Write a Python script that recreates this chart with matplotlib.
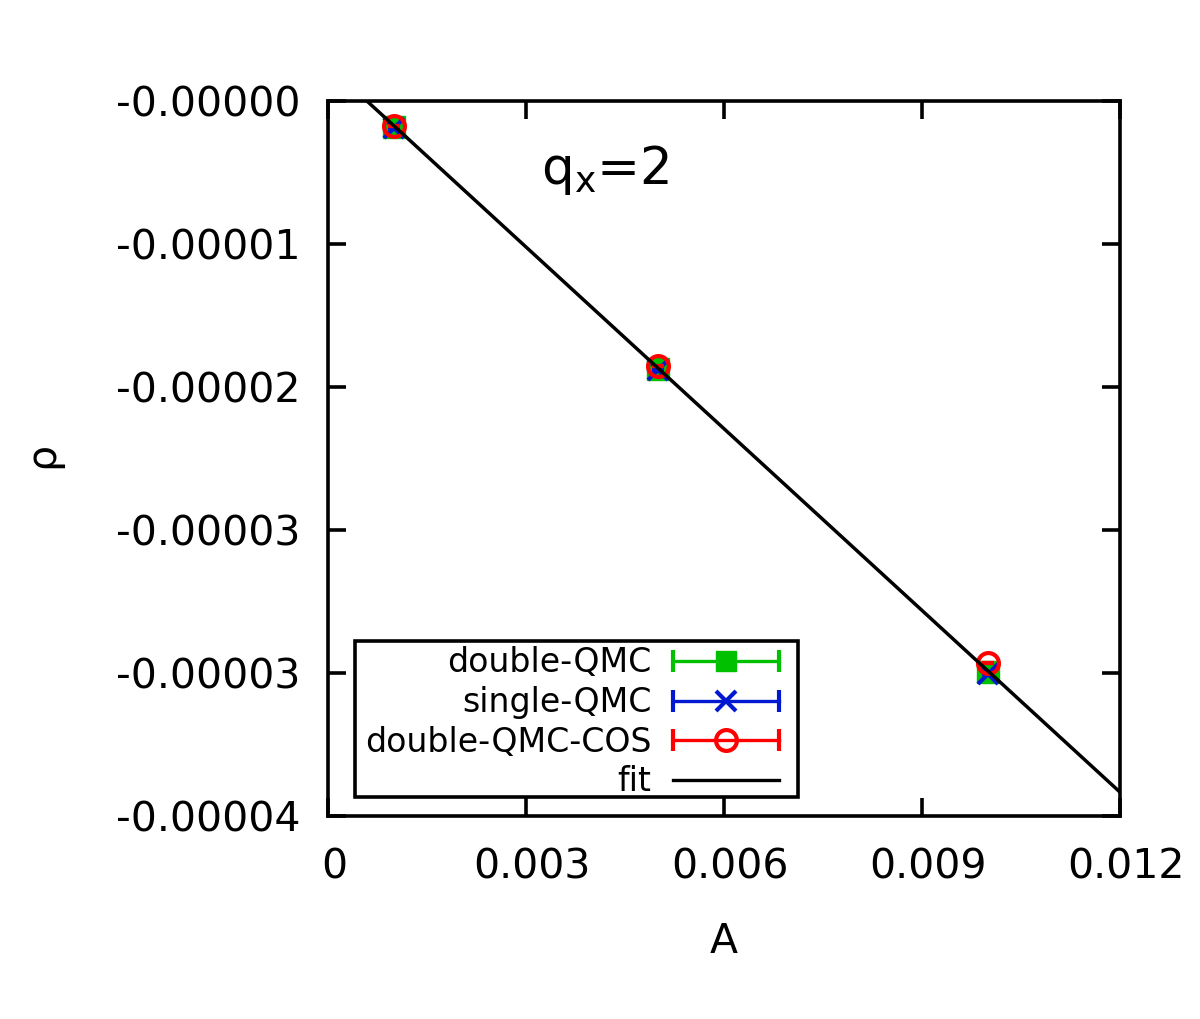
import numpy as np
import matplotlib
matplotlib.use("Agg")
import matplotlib.pyplot as plt
import matplotlib.transforms as mtransforms
from matplotlib.lines import Line2D
from matplotlib.patches import Rectangle
from matplotlib.legend_handler import HandlerLine2D, HandlerTuple
from matplotlib.ticker import FuncFormatter

# data
A = [0.001, 0.005, 0.010]
rho_double = [-1.53e-6, -1.574e-5, -3.354e-5]
rho_single = [-1.59e-6, -1.58e-5, -3.366e-5]
rho_cos = [-1.47e-6, -1.557e-5, -3.301e-5]
err = [2e-8, 2e-8, 2e-8]
fit_a = 2.10e-6
fit_b = -3.558e-3
xticks = [0, 0.003, 0.006, 0.009, 0.012]
xlim = (0, 0.012)
ylim = (-4.2e-5, 0.0)
labels = ['double-QMC', 'single-QMC', 'double-QMC-COS', 'fit']

green = '#00c000'
blue = '#0018d0'
red = '#ff0000'

fig = plt.figure(figsize=(12, 10.19), dpi=100)
ax = fig.add_axes([0.2733, 0.1992, 0.66, 0.7017])

ax.errorbar(A, rho_double, yerr=err, fmt='s', color=green, ms=15.5, capsize=4, elinewidth=2, zorder=3)
ax.errorbar(A, rho_single, yerr=err, fmt='x', color=blue, ms=14, mew=3, capsize=4, elinewidth=2, zorder=4)
ax.errorbar(A, rho_cos, yerr=err, fmt='o', color=red, ms=15, mfc='none', mew=3, capsize=4, elinewidth=2, zorder=5)
xf = np.array(xlim)
ax.plot(xf, fit_a + fit_b * xf, color='black', lw=2.5, zorder=6)

ax.set_xlim(*xlim)
ax.set_ylim(*ylim)
ax.set_xticks(xticks)
ax.xaxis.set_major_formatter(FuncFormatter(lambda v, p: '%g' % v))
ax.set_yticks(np.linspace(ylim[1], ylim[0], 6))
ax.yaxis.set_major_formatter(FuncFormatter(lambda v, p: f"{-abs(v):.5f}"))
ax.tick_params(direction='in', length=13, width=2.6, top=True, right=True, labelsize=29.5, pad=20)
ax.tick_params(axis='x', pad=23)
for s in ax.spines.values():
    s.set_linewidth(2.6)
shift = mtransforms.ScaledTranslation(6 / 100, 0, fig.dpi_scale_trans)
for lab in ax.get_xticklabels():
    lab.set_transform(lab.get_transform() + shift)

ax.set_xlabel('A', fontsize=29.5)
ax.xaxis.set_label_coords(0.5, -0.148)
ax.set_ylabel('ρ', fontsize=29.5)
ax.yaxis.set_label_coords(-0.335, 0.505)

ax.text(0.35, 0.9035, r'q$_\mathregular{x}$=2', transform=ax.transAxes, fontsize=37, ha='center', va='center')


class PadLine(HandlerLine2D):
    def __init__(self, rpad=0.3, **kw):
        super().__init__(**kw)
        self.rpad = rpad

    def create_artists(self, legend, orig_handle, xdescent, ydescent, width, height, fontsize, trans):
        return super().create_artists(legend, orig_handle, xdescent, ydescent,
                                      width - self.rpad * fontsize, height, fontsize, trans)


class PadTuple(HandlerTuple):
    def __init__(self, rpad=0.3, **kw):
        super().__init__(**kw)
        self.rpad = rpad

    def create_artists(self, legend, orig_handle, xdescent, ydescent, width, height, fontsize, trans):
        return super().create_artists(legend, orig_handle, xdescent, ydescent,
                                      width - self.rpad * fontsize, height, fontsize, trans)


def make_handle(color, marker, **kw):
    cap = Line2D([], [], color=color, marker='|', ms=16, mew=3, lw=2.4)
    mk = Line2D([], [], color=color, marker=marker, linestyle='none', **kw)
    return (cap, mk), cap

# legend frame
ax.add_patch(Rectangle((0.0341, 0.0266), 0.5593, 0.2182, transform=ax.transAxes,
                       facecolor='white', edgecolor='black', lw=2.6, zorder=7))

rp = 0.57
h1, c1 = make_handle(green, 's', ms=15)
h2, c2 = make_handle(blue, 'x', ms=14, mew=3)
h3, c3 = make_handle(red, 'o', ms=15, mfc='none', mew=3)
h4 = Line2D([], [], color='black', lw=2.4)
hm = {c: HandlerLine2D(numpoints=2, marker_pad=0.0) for c in (c1, c2, c3)}
hm[tuple] = PadTuple(rpad=rp, ndivide=1, pad=0)
hm[h4] = PadLine(rpad=rp)
leg = ax.legend([h1, h2, h3, h4], labels,
                handler_map=hm, markerfirst=False, loc='upper right',
                bbox_to_anchor=(0.5934, 0.2371), borderaxespad=0, fontsize=23.9,
                handlelength=3.2 + rp, handletextpad=0.65, labelspacing=0.2, borderpad=0,
                numpoints=1, frameon=False)
leg.set_zorder(8)

fig.savefig('out.png', dpi=100)
